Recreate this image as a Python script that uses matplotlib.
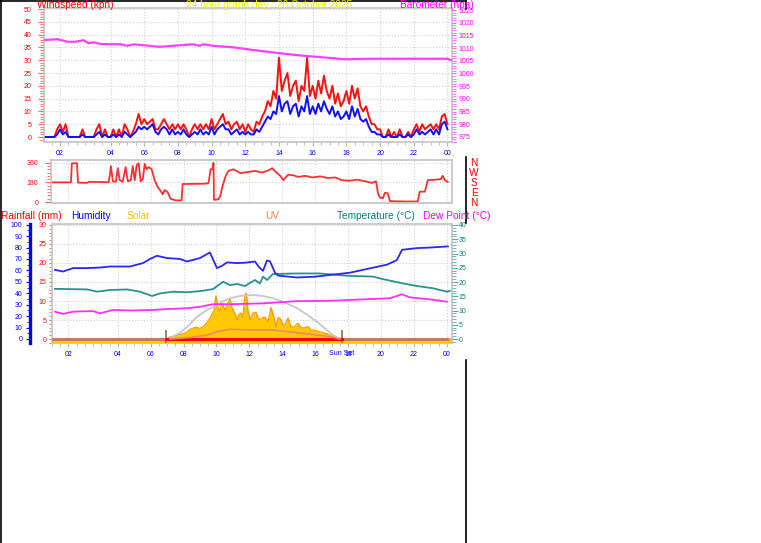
import numpy as np
import matplotlib.pyplot as plt
from matplotlib.lines import Line2D
from matplotlib.ticker import MultipleLocator

plt.rcParams['font.family'] = ['Liberation Sans', 'DejaVu Sans']

W, H = 761, 543   # output size in pixels

# hours are real elapsed hours from the start of the graph; clocks went back
# at 03:00 that night so the local label "02" is followed by a 3 hour gap
tick_hours = [1, 4, 6, 8, 10, 12, 14, 16, 18, 20, 22, 24]
tick_labels = ['02', '04', '06', '08', '10', '12', '14', '16', '18', '20', '22', '00']
sunrise = 6.93
sunset = 17.63

# wind speed, one reading every 10 minutes (kph)
gust = [0, 0, 0, 0, 0, 3,  5, 2, 5, 0, 0, 0,  0, 0, 3, 0, 0, 0,  0, 3, 5, 0, 3, 0,
        0, 3, 0, 3, 0, 5,  3, 0, 2, 5, 9, 5,  7, 5, 6, 7, 3, 3,  5, 7, 5, 3, 5, 3,
        5, 3, 5, 3, 0, 3,  5, 3, 5, 3, 5, 3,  7, 3, 5, 7, 9, 5,  6, 3, 5, 6, 3, 5,
        2, 5, 3, 2, 6, 5,  8, 10, 14, 12, 18, 15,  31, 18, 22, 25, 16, 20,
        22, 14, 20, 18, 31, 16,  20, 15, 22, 17, 24, 18,  15, 20, 13, 17, 12, 14,
        18, 13, 20, 15, 19, 12,  10, 12, 8, 5, 5, 3,  3, 0, 0, 3, 0, 2,
        0, 3, 0, 0, 2, 0,  3, 5, 2, 5, 3, 4,  5, 3, 5, 3, 8, 9,  5]
avg_speed = [0, 0, 0, 0, 0, 1,  3, 1, 2, 0, 0, 0,  0, 0, 1, 0, 0, 0,  0, 1, 2, 0, 1, 0,
             0, 1, 0, 1, 0, 2,  1, 0, 1, 2, 4, 3,  4, 3, 4, 5, 2, 1,  3, 4, 3, 1, 3, 1,
             2, 1, 3, 1, 0, 1,  2, 1, 3, 1, 2, 1,  4, 1, 3, 4, 5, 3,  3, 1, 2, 3, 1, 2,
             1, 2, 1, 1, 3, 2,  4, 6, 8, 7, 10, 9,  16, 10, 13, 14, 9, 12,
             13, 8, 12, 10, 16, 9,  12, 9, 13, 10, 14, 11,  9, 12, 8, 10, 7, 8,
             10, 7, 12, 8, 11, 7,  6, 7, 4, 2, 2, 1,  1, 0, 0, 1, 0, 0,
             0, 1, 0, 0, 1, 0,  1, 3, 1, 2, 1, 2,  3, 1, 3, 1, 5, 6,  3]
wind_hours = np.arange(len(gust)) / 6

baro_hours = [0.1, 0.85, 1.45, 1.9, 2.4, 2.7, 3.0, 3.4, 4.6, 5.0, 5.4, 6.9, 7.7,
              8.9, 9.3, 9.5, 10.1, 11.3, 12.3, 13.5, 15.1, 16.7, 17.9, 19.3, 24.0, 24.2]
baro = [1013.2, 1013.5, 1012.5, 1012.5, 1013.1, 1011.9, 1012.3, 1011.6, 1011.5,
        1010.9, 1011.5, 1010.5, 1010.9, 1011.5, 1010.9, 1011.5, 1010.9, 1010.3,
        1009.4, 1008.4, 1007.2, 1006.3, 1005.6, 1005.8, 1005.8, 1005.3]

dir_hours = [0.0, 1.15, 1.21, 1.52, 1.58, 2.12, 2.24, 3.45, 3.52, 3.58, 3.70, 3.88,
             4.00, 4.12, 4.30, 4.48, 4.61, 4.79, 4.91, 5.03, 5.15, 5.27, 5.39, 5.52,
             5.64, 5.76, 5.88, 6.06, 6.24, 6.42, 6.61, 6.73, 6.85, 7.03, 7.21, 7.52,
             7.88, 7.94, 9.33, 9.52, 9.64, 9.76, 9.82, 9.85, 10.12, 10.24, 10.36,
             10.55, 10.73, 11.03, 11.45, 11.94, 12.36, 12.79, 13.15, 13.39, 13.64,
             13.88, 14.06, 14.36, 14.67, 14.97, 15.39, 15.82, 16.30, 16.79, 17.21,
             17.64, 18.12, 18.55, 19.03, 19.45, 19.70, 19.82, 19.94, 20.12, 20.24,
             20.42, 20.55, 21.45, 22.24, 22.36, 22.67, 22.85, 23.33, 23.64, 23.76,
             23.88, 24.06]
wind_dir = [180, 180, 355, 355, 178, 175, 185, 182, 250, 330, 190, 185,
            310, 200, 185, 320, 190, 200, 330, 200, 340, 355, 190, 210,
            350, 300, 320, 300, 200, 140, 100, 70, 110, 90, 30, 15,
            15, 165, 168, 175, 300, 300, 360, 20, 25, 60, 140,
            235, 285, 300, 265, 275, 285, 270, 290, 310, 270,
            240, 200, 250, 245, 230, 240, 225, 235, 220, 225,
            200, 195, 205, 190, 175, 190, 80, 40, 35, 85,
            80, 8, 5, 5, 95, 95, 200, 205, 210, 240,
            200, 185]

hum_hours = [0.18, 0.67, 1.28, 2.13, 2.92, 3.53, 4.74, 5.53, 5.96, 6.38, 6.99, 7.78,
             8.21, 9.00, 9.60, 10.03, 10.33, 10.64, 11.25, 11.73, 12.34, 12.58, 12.83,
             13.07, 13.25, 13.56, 13.74, 14.89, 15.99, 16.90, 18.12, 18.91, 20.36,
             20.97, 21.28, 22.19, 22.98, 24.07]
humidity = [60.5, 59, 62, 62, 62.5, 63.4, 63.4, 66.4, 70, 72.8, 70.8, 70,
            67.8, 70.8, 75.7, 62, 64, 67, 66.4, 66.7, 67.8, 63, 59.6,
            68.7, 68, 58, 55.5, 53.8, 54.5, 56, 58, 60.5, 65,
            69, 78, 79.5, 80, 81]

temp_hours = [0.18, 2.13, 2.74, 3.53, 4.56, 5.35, 6.08, 6.57, 7.36, 8.21, 9.00, 9.79,
              10.40, 10.82, 11.25, 11.73, 12.34, 12.64, 12.83, 13.07, 13.43, 14.89,
              16.29, 17.93, 19.51, 20.12, 21.34, 22.19, 23.16, 24.01, 24.19]
temperature = [17.6, 17.4, 16.6, 17.2, 17.4, 16.6, 15.1, 16.0, 16.6, 16.4, 16.8, 17.5,
               20.1, 18.9, 19.3, 18.6, 20.7, 19.5, 21.9, 20.7, 22.8, 23.0,
               23.0, 22.2, 21.9, 21.0, 19.5, 18.6, 17.8, 16.6, 16.9]

dew_hours = [0.18, 0.67, 1.28, 2.49, 2.92, 3.71, 4.92, 6.14, 6.99, 8.21, 9.00, 9.79,
             10.64, 11.43, 12.83, 14.89, 16.90, 18.91, 20.55, 21.28, 21.76, 22.98, 24.01]
dewpoint = [9.6, 8.8, 9.6, 9.8, 9.0, 10.2, 10.0, 10.2, 10.5, 10.8, 11.3, 12.2,
            12.2, 12.3, 12.5, 13.3, 13.4, 13.9, 14.3, 15.7, 14.6, 13.9, 13.1]

rain_hours = list(range(25))
rainfall = [0.0] * 25

# solar radiation (W/m2)
solar_hours = [0.0, 6.93, 7.17, 7.66, 8.09, 8.39, 8.75, 9.00, 9.30, 9.54, 9.73, 9.85,
               9.97, 10.09, 10.21, 10.33, 10.52, 10.70, 10.82, 10.94, 11.12, 11.25,
               11.37, 11.49, 11.61, 11.73, 11.82, 11.91, 12.04, 12.22, 12.40, 12.58,
               12.77, 12.95, 13.13, 13.31, 13.43, 13.62, 13.74, 13.86, 14.04, 14.16,
               14.35, 14.53, 14.71, 14.95, 15.14, 15.32, 15.56, 15.74, 15.99, 16.17,
               16.47, 16.72, 16.96, 17.20, 17.45, 17.63, 24.3]
solar = [0, 0, 20, 40, 60, 100, 125, 110, 145, 200, 260, 300,
         450, 330, 290, 380, 300, 375, 420, 330, 270, 200,
         260, 270, 230, 460, 480, 300, 200, 270, 280, 200,
         220, 230, 180, 330, 270, 130, 220, 220, 150, 145,
         220, 130, 125, 165, 120, 115, 130, 95, 90, 80,
         65, 55, 35, 20, 8, 0, 0]
sunmax_hours = [6.93, 7.3, 7.78, 8.3, 8.82, 9.4, 10.03, 10.4, 10.82, 11.5, 12.22,
                12.8, 13.43, 14.1, 14.89, 15.5, 16.11, 16.6, 17.08, 17.4, 17.63]
sun_max = [0, 22, 63, 140, 232, 300, 355, 395, 425, 452, 459,
           450, 425, 385, 323, 255, 180, 110, 42, 12, 0]
uv_hours = [7.17, 8.39, 9.42, 10.03, 10.82, 12.22, 13.43, 14.89, 16.11, 17.08, 17.51]
uv = [0, 0.2, 0.5, 0.95, 1.26, 1.17, 1.17, 0.82, 0.52, 0.22, 0]

compass = ['N', 'W', 'S', 'E', 'N']

fig = plt.figure(figsize=(W / 100, H / 100), dpi=100)
fig.patch.set_facecolor('white')


def px_axes(left, top, right, bottom):
    return fig.add_axes([left / W, 1 - bottom / H, (right - left) / W, (bottom - top) / H])


def style_frame(ax, labels=True):
    for sp in ax.spines.values():
        sp.set_color('#c4c4c4')
        sp.set_linewidth(1.2)
    ax.grid(True, color='#d0d0d0', ls=':', lw=0.8)
    ax.set_axisbelow(True)
    ax.set_xticks(tick_hours)
    ax.set_xticklabels(tick_labels if labels else [])
    ax.xaxis.set_minor_locator(MultipleLocator(0.5))
    ax.tick_params(axis='x', which='both', colors='#b4b4b4', labelcolor='blue',
                   labelsize=5, pad=3)
    ax.tick_params(axis='x', which='major', length=3 if labels else 0)
    ax.tick_params(axis='x', which='minor', length=2 if labels else 0)


def hide(ax):
    for sp in ax.spines.values():
        sp.set_visible(False)
    ax.tick_params(axis='y', which='both', left=False, right=False,
                   labelleft=False, labelright=False)


# ---- wind speed / barometer
ax_w = px_axes(44, 8, 452, 142)
style_frame(ax_w)
ax_w.set_xlim(0.05, 24.27)
ax_w.set_ylim(-1.95, 50.4)
ax_w.set_yticks(range(0, 51, 5))
ax_w.yaxis.set_minor_locator(MultipleLocator(1))
ax_w.tick_params(axis='y', which='both', colors='#ff6060', labelcolor='red',
                 labelsize=5, pad=5)
ax_w.tick_params(axis='y', which='major', length=4)
ax_w.tick_params(axis='y', which='minor', length=3)
ax_w.plot(wind_hours, gust, color='#ff1010', lw=1.4)
ax_w.plot(wind_hours, avg_speed, color='#1010ff', lw=1.4)

ax_b = ax_w.twinx()
hide(ax_b)
ax_b.set_ylim(973.0, 1025.8)
ax_b.set_yticks(range(975, 1026, 5))
ax_b.yaxis.set_minor_locator(MultipleLocator(1))
ax_b.tick_params(axis='y', which='both', right=True, labelright=True,
                 colors='#ff60ff', labelcolor='#ff00ff', labelsize=5, pad=2)
ax_b.tick_params(axis='y', which='major', length=3)
ax_b.tick_params(axis='y', which='minor', length=3)
ax_b.plot(baro_hours, baro, color='#ff40ff', lw=1.6)

# ---- wind direction
ax_d = px_axes(51, 160, 452, 203)
style_frame(ax_d, labels=False)
ax_d.set_xlim(-0.06, 24.32)
ax_d.set_ylim(-9, 385)
ax_d.set_yticks([0, 180, 360])
ax_d.yaxis.set_minor_locator(MultipleLocator(30))
ax_d.tick_params(axis='y', which='both', colors='#ff6060', labelcolor='red',
                 labelsize=5, pad=5)
ax_d.tick_params(axis='y', which='major', length=4)
ax_d.tick_params(axis='y', which='minor', length=3)
ax_d.plot(dir_hours, wind_dir, color='#ff3030', lw=1.3)

# ---- rain / humidity / solar / uv / temperature / dew point
ax_r = px_axes(52, 224, 452, 343)
style_frame(ax_r)
ax_r.set_xlim(0, 24.32)
ax_r.set_ylim(-1.05, 30.26)
ax_r.set_yticks(range(0, 31, 5))
ax_r.yaxis.set_minor_locator(MultipleLocator(1))
ax_r.tick_params(axis='y', which='both', colors='#ff6060', labelcolor='red',
                 labelsize=5, pad=1.5, length=2.5)
ax_r.annotate('Sun Set', xy=(sunset, 0), xycoords=('data', 'axes fraction'),
              xytext=(0, -5.2), textcoords='offset points', ha='center', va='top',
              color='blue', fontsize=5)

ax_s = ax_r.twinx()
hide(ax_s)
ax_s.set_ylim(-41.7, 1200)
ax_s.fill_between(solar_hours, solar, -41.7, color='#ffc800', lw=0)
ax_s.plot(solar_hours, solar, color='#ff9a00', lw=0.9)
ax_s.plot(sunmax_hours, sun_max, color='#c8c8c8', lw=1.3)
ax_s.axvline(sunrise, ymin=0, ymax=0.1, color='#a08060', lw=1.4)
ax_s.axvline(sunset, ymin=0, ymax=0.1, color='#a08060', lw=1.4)
rain_h = np.array(rain_hours, dtype=float)
rain_v = np.array(rainfall)
day_h = np.clip(rain_h, sunrise, sunset)
ax_s.plot(rain_h, rain_v, color='#c87868', lw=2.2, transform=ax_r.transData)
ax_s.plot(day_h, rain_v, color='#ff0000', lw=2.2, transform=ax_r.transData)

ax_u = ax_r.twinx()
hide(ax_u)
ax_u.set_ylim(-0.52, 15)
ax_u.plot(uv_hours, uv, color='#f08868', lw=1.2)

ax_t = ax_r.twinx()
hide(ax_t)
ax_t.set_ylim(-1.4, 40.35)
ax_t.set_yticks(range(0, 41, 5))
ax_t.yaxis.set_minor_locator(MultipleLocator(1))
ax_t.tick_params(axis='y', which='both', right=True, labelright=True,
                 colors='#60a8a8', labelcolor='#008080', labelsize=5, pad=1)
ax_t.tick_params(axis='y', which='major', length=4)
ax_t.tick_params(axis='y', which='minor', length=3)
ax_t.plot(temp_hours, temperature, color='#2a9090', lw=1.3)
ax_t.plot(dew_hours, dewpoint, color='#ff30ff', lw=1.3)

ax_h = ax_r.twinx()
hide(ax_h)
ax_h.yaxis.tick_left()
ax_h.spines['left'].set_visible(True)
ax_h.spines['left'].set_position(('outward', 15.8))
ax_h.spines['left'].set_color('blue')
ax_h.spines['left'].set_linewidth(2.4)
ax_h.set_ylim(-3.52, 100.6)
ax_h.set_yticks(range(0, 101, 10))
ax_h.yaxis.set_minor_locator(MultipleLocator(5))
ax_h.tick_params(axis='y', which='both', left=True, labelleft=True, colors='blue',
                 labelsize=5, pad=2.5)
ax_h.tick_params(axis='y', which='major', length=3)
ax_h.tick_params(axis='y', which='minor', length=2)
ax_h.plot(hum_hours, humidity, color='#2828f0', lw=1.3)

# ---- titles and series names
fs = 7.3
top_texts = [('Windspeed (kph)', 37, 'red'),
             ('24 hour graph day : 26 October 2025', 186, '#f0f000'),
             ('Barometer (hpa)', 400, '#ff00ff')]
for txt, x, col in top_texts:
    fig.text(x / W, 1 - 8.5 / H, txt, color=col, fontsize=fs, va='baseline')

names = [('Rainfall (mm)', 1, 'red'), ('Humidity', 71, 'blue'), ('Solar', 127, '#ffc000'),
         ('UV', 265, '#f08050'), ('Temperature (°C)', 337, '#008080'),
         ('Dew Point (°C)', 423, '#ff00ff')]
for txt, x, col in names:
    fig.text(x / W, 1 - 219 / H, txt, color=col, fontsize=fs, va='baseline')

for i, letter in enumerate(compass):
    fig.text(474 / W, 1 - (162.5 + 10.2 * i) / H, letter, color='red', fontsize=fs,
             ha='center', va='center')

# black border pieces of the original image
borders = [((0.8, 0.8), (0, H)), ((0, 465), (0.8, 0.8)), ((465.5, 465.5), (0, 9)),
           ((466, 466), (157, 223)), ((465.5, 465.5), (360, H))]
for xs, ys in borders:
    fig.add_artist(Line2D([x / W for x in xs], [1 - y / H for y in ys],
                          transform=fig.transFigure, color='black', lw=1.2))

fig.savefig('out.png', dpi=100, facecolor='white')
